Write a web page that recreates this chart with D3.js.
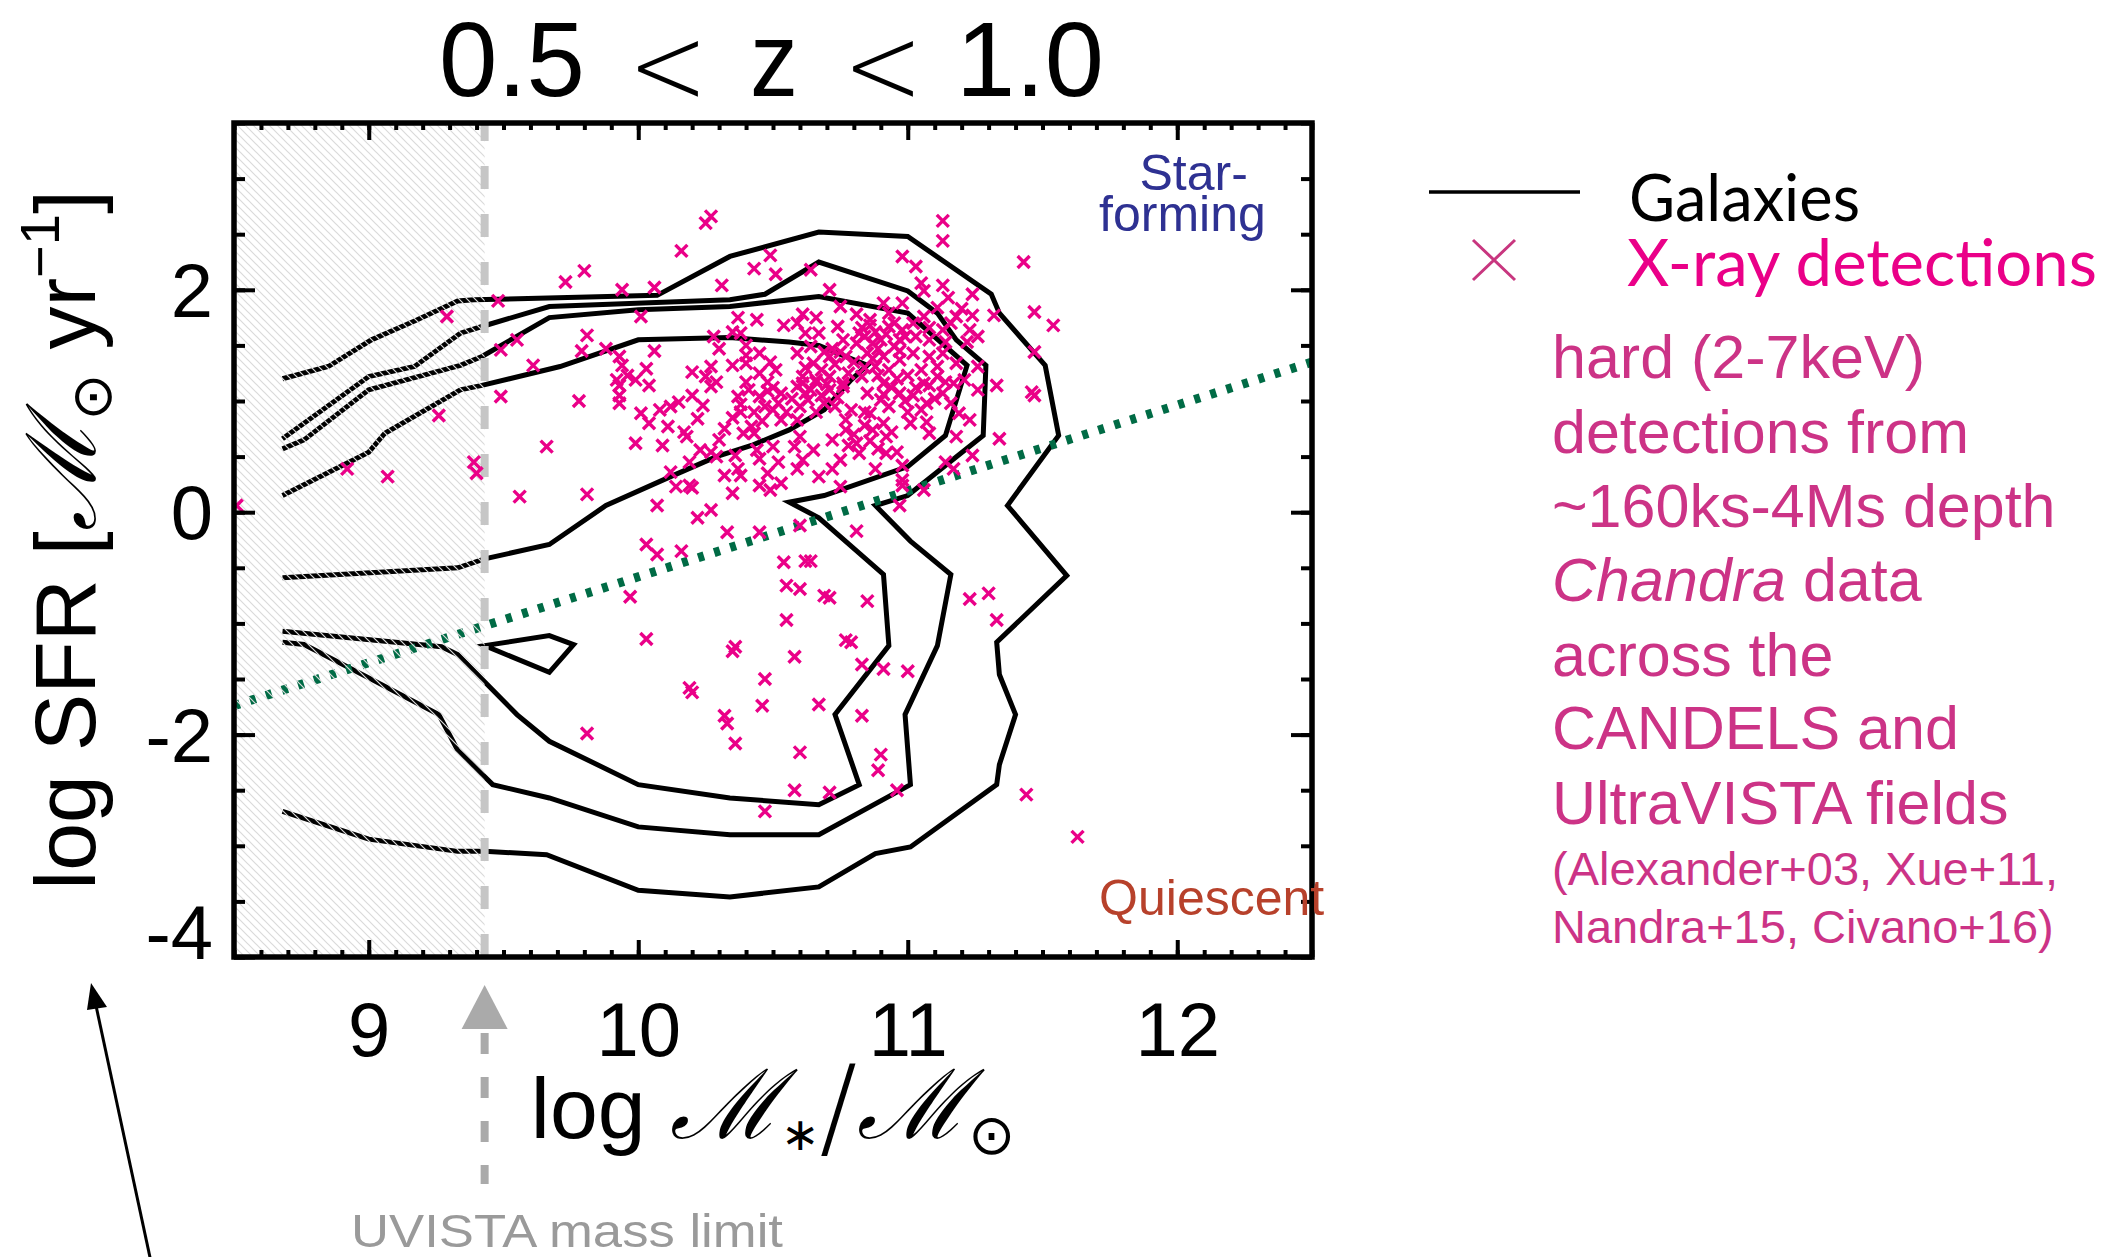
<!DOCTYPE html>
<html>
<head>
<meta charset="utf-8">
<script src="https://cdn.jsdelivr.net/npm/d3@7"></script>
<style>
  html, body { margin: 0; padding: 0; background: #fff; }
  svg { display: block; }
</style>
</head>
<body>
<script>
// ---------- data ----------
const xTickValues = [9, 10, 11, 12];
const yTickValues = [2, 0, -2, -4];
const massLimit = 9.43;                       // UVISTA stellar-mass completeness limit
const mainSequence = [[8.5, -1.74], [12.5, 1.35]];  // star-forming / quiescent divider

// galaxy density contours (log M*, log SFR)
const contourOuter = [[8.68,1.20],[8.85,1.31],[9.01,1.55],[9.17,1.72],[9.33,1.90],[9.39,1.91],[10.07,1.95],[10.34,2.30],[10.67,2.52],[11.00,2.48],[11.31,1.96],[11.34,1.79],[11.51,1.32],[11.56,0.69],[11.37,0.06],[11.59,-0.57],[11.33,-1.17],[11.34,-1.46],[11.40,-1.82],[11.34,-2.27],[11.33,-2.45],[11.01,-3.01],[10.88,-3.07],[10.67,-3.37],[10.34,-3.46],[10.00,-3.40],[9.66,-3.08],[9.43,-3.05],[9.33,-3.05],[9.00,-2.94],[8.68,-2.69]];
const contourSecond = [[8.68,0.66],[9.00,1.22],[9.17,1.31],[9.34,1.61],[9.42,1.67],[9.67,1.85],[10.34,1.91],[10.47,1.96],[10.67,2.25],[11.00,1.99],[11.11,1.79],[11.18,1.55],[11.29,1.32],[11.28,0.69],[11.00,0.15],[10.88,0.06],[11.01,-0.26],[11.16,-0.56],[11.11,-1.20],[10.99,-1.82],[11.01,-2.45],[10.67,-2.90],[10.34,-2.90],[10.00,-2.83],[9.67,-2.57],[9.46,-2.45],[9.33,-2.14],[9.26,-1.82],[9.00,-1.49],[8.76,-1.19],[8.68,-1.17]];
const contourThird = [[8.68,0.57],[8.76,0.65],[9.00,1.10],[9.34,1.32],[9.42,1.40],[9.67,1.75],[10.00,1.82],[10.34,1.85],[10.67,1.94],[11.00,1.79],[11.22,1.32],[11.14,0.69],[11.00,0.41],[10.69,0.15],[10.56,0.09],[10.67,-0.05],[10.91,-0.56],[10.93,-1.20],[10.73,-1.82],[10.82,-2.45],[10.67,-2.63],[10.34,-2.57],[10.00,-2.45],[9.67,-2.06],[9.55,-1.82],[9.33,-1.28],[9.27,-1.21],[8.68,-1.07]];
const contourCore = [[8.68,0.15],[9.00,0.54],[9.06,0.71],[9.34,1.10],[9.42,1.14],[9.71,1.31],[10.00,1.55],[10.34,1.57],[10.56,1.53],[10.67,1.50],[10.85,1.32],[10.79,1.19],[10.69,0.92],[10.56,0.74],[10.42,0.60],[10.29,0.50],[10.12,0.32],[9.88,0.06],[9.67,-0.29],[9.43,-0.42],[9.33,-0.50],[8.68,-0.59]];
const contourIsland = [[9.43,-1.20],[9.67,-1.11],[9.76,-1.19],[9.67,-1.44]];

// hard-band X-ray detected hosts (log M*, log SFR)
const xrayDetections = [
[10.27,2.66],[10.25,2.60],[10.16,2.35],[9.80,2.17],[9.73,2.07],[9.94,2.00],[10.06,2.02],[10.31,2.04],[10.49,2.31],[10.43,2.19],[10.51,2.14],[10.01,1.76],[9.81,1.59],[9.79,1.45],[9.88,1.47],[10.06,1.45],[10.28,1.58],[10.30,1.47],[9.93,1.40],[9.94,1.32],[10.03,1.29],[9.96,1.23],[9.99,1.19],[9.93,1.14],[10.04,1.14],[10.20,1.26],[10.27,1.31],[10.35,1.32],[10.25,1.22],[10.29,1.17],[10.40,1.17],[10.37,1.75],[10.44,1.73],[10.35,1.62],[10.38,1.61],[10.40,1.50],[10.45,1.43],[10.40,1.41],[10.40,1.34],[10.49,1.35],[10.45,1.25],[10.48,1.17],[10.51,1.28],[10.54,1.68],
[11.13,2.62],[11.13,2.44],[10.98,2.30],[11.03,2.21],[11.43,2.25],[10.64,2.18],[11.05,2.06],[11.13,2.04],[10.71,2.00],[11.24,1.96],[11.06,1.99],[11.32,1.77],[11.24,1.77],[11.11,1.84],[11.18,1.76],[10.98,1.88],[10.91,1.88],[10.75,1.85],[10.61,1.78],[10.66,1.75],[10.81,1.78],[10.86,1.73],[10.93,1.79],[11.06,1.76],[10.59,1.70],[10.74,1.67],[10.67,1.61],[10.62,1.61],[10.82,1.61],[10.93,1.67],[10.98,1.64],[11.13,1.64],[11.23,1.64],[11.26,1.58],[11.22,1.53],[11.14,1.53],[11.08,1.55],[11.03,1.58],[10.97,1.55],[10.95,1.49],[10.87,1.52],[10.81,1.52],[10.76,1.55],[10.72,1.47],[10.64,1.49],[10.59,1.43],[10.65,1.34],[10.71,1.40],[10.77,1.40],[10.85,1.43],[10.91,1.40],[10.97,1.37],[11.02,1.43],[11.08,1.40],[11.13,1.43],[11.18,1.34],[11.11,1.31],[11.05,1.28],[11.00,1.23],[10.93,1.28],[10.88,1.31],[10.83,1.22],[10.71,1.22],[10.61,1.22],[11.26,1.31],[11.21,1.19],[11.33,1.14],[11.14,1.17],[11.06,1.16],[10.91,1.16],[10.76,1.16],[10.66,1.17],
[9.78,1.00],[9.93,1.05],[9.93,0.98],[10.01,0.89],[10.04,0.80],[10.08,0.92],[10.11,0.77],[10.12,0.95],[10.15,0.99],[10.20,1.05],[10.24,0.96],[10.22,0.84],[10.17,0.72],[10.18,0.68],[9.99,0.62],[10.09,0.60],[10.23,0.56],[10.27,1.13],[10.37,1.04],[10.38,0.90],[10.45,1.04],[10.43,0.90],[10.53,1.07],[10.50,0.92],[10.53,0.83],[10.32,0.75],[10.30,0.65],[10.39,0.71],[10.43,0.71],[10.27,0.54],[10.29,0.50],[10.36,0.51],[10.44,0.56],[10.45,0.48],[10.50,0.59],[10.52,0.45],[10.19,0.45],[10.12,0.36],[10.32,0.33],[10.37,0.39],[10.38,0.33],[10.48,0.35],[10.45,0.24],[10.49,0.20],[10.53,0.26],[10.14,0.23],[10.19,0.24],[10.20,0.22],[10.35,0.17],[9.81,0.16],[10.07,0.06],[10.22,-0.05],[10.27,0.02],[10.33,-0.18],[10.45,-0.18],[10.03,-0.29],[10.07,-0.38],[10.16,-0.35],[10.54,-0.45],
[10.59,1.13],[10.64,1.10],[10.71,1.10],[10.76,1.13],[10.69,0.98],[10.63,1.01],[10.59,0.83],[10.60,0.68],[10.58,0.59],[10.65,0.56],[10.72,0.65],[10.77,0.74],[10.79,0.92],[10.85,1.07],[10.90,1.01],[10.86,0.89],[10.93,0.95],[10.97,1.07],[11.02,1.05],[11.08,1.14],[11.07,0.98],[11.13,1.07],[11.17,1.16],[11.16,0.98],[11.01,0.80],[11.07,0.81],[11.08,0.71],[11.19,0.89],[11.23,0.83],[11.26,1.10],[11.18,0.68],[10.91,0.80],[10.87,0.74],[10.92,0.68],[10.81,0.62],[10.82,0.53],[10.92,0.53],[10.96,0.54],[10.75,0.47],[10.72,0.39],[10.67,0.32],[10.61,0.47],[10.59,0.39],[10.88,0.39],[10.98,0.42],[10.98,0.29],[10.98,0.24],[11.06,0.20],[10.75,0.23],[11.14,0.45],[11.17,0.39],[11.24,0.51],[11.34,0.66],[10.97,0.06],[10.60,-0.12],[10.81,-0.17],[10.62,-0.44],[10.64,-0.44],
[10.84,1.58],[10.88,1.62],[10.90,1.55],[10.86,1.68],[10.95,1.70],[10.99,1.58],[10.89,1.47],[10.83,1.66],[10.92,1.60],[10.97,1.45],
[10.60,0.95],[10.62,1.07],[10.66,0.90],[10.68,1.05],[10.70,1.15],[10.73,0.95],[10.74,1.03],[10.61,1.16],[10.66,1.19],[10.57,1.02],
[10.38,0.97],[10.41,1.10],[10.46,0.82],[10.47,0.95],[10.50,1.12],[10.52,0.98],[10.55,0.90],[10.42,0.77],[10.35,0.85],[10.48,1.09],
[10.68,1.28],[10.73,1.33],[10.78,1.25],[10.80,1.35],[10.84,1.30],[10.87,1.38],[10.75,1.44],[10.69,1.44],[10.62,1.30],[10.89,1.23],
[10.94,1.12],[10.99,1.00],[11.03,1.12],[11.05,0.92],[11.10,1.02],[10.96,1.20],[11.11,1.22],[11.00,0.90],[10.91,1.06],
[10.78,0.60],[10.80,0.70],[10.84,0.78],[10.86,0.64],[10.89,0.57],[10.94,0.72],[10.77,0.83],[10.84,0.90],
[11.02,1.70],[11.08,1.66],[11.16,1.70],[11.20,1.83],[11.15,1.93],
[9.48,1.90],[9.29,1.76],[9.49,1.46],[9.55,1.55],[9.61,1.32],[9.92,1.19],[9.49,1.04],[9.26,0.87],[9.66,0.59],[8.92,0.39],[9.07,0.32],[9.39,0.45],[9.40,0.35],[9.56,0.14],[8.51,0.06],
[9.97,-0.76],[10.55,-0.66],[10.60,-0.69],[10.71,-0.77],[10.69,-0.75],[10.55,-0.97],[10.03,-1.14],[10.35,-1.25],[10.36,-1.21],[10.58,-1.30],[10.47,-1.50],[10.19,-1.58],[10.20,-1.62],[10.46,-1.74],[10.67,-1.73],[10.32,-1.83],[10.33,-1.90],[9.81,-1.99],[10.36,-2.08],[10.60,-2.16],[10.58,-2.50],[10.71,-2.52],[10.47,-2.69],[10.85,-0.80],[10.77,-1.15],[10.79,-1.17],[10.83,-1.37],[10.91,-1.41],[11.00,-1.43],[10.83,-1.83],[10.90,-2.18],[10.89,-2.32],[10.96,-2.50],[11.23,-0.78],[11.30,-0.73],[11.33,-0.97],[11.44,-2.54],[11.63,-2.92],
[11.47,1.80],[11.54,1.68],[11.47,1.44],[11.46,1.08],[11.47,1.05]
];

const descriptionLines = [
  ["hard (2-7keV)"],
  ["detections from"],
  ["~160ks-4Ms depth"],
  ["Chandra", " data"],
  ["across the"],
  ["CANDELS and"],
  ["UltraVISTA fields"]
];
const referenceLines = ["(Alexander+03, Xue+11,", "Nandra+15, Civano+16)"];

// ---------- layout ----------
const W = 2110, H = 1257;
const plot = { left: 234, right: 1312, top: 123, bottom: 957 };
const SANS = "'Liberation Sans', Arial, Helvetica, sans-serif";
const MAGENTA = "#ea0088";

const x = d3.scaleLinear().domain([8.5, 12.5]).range([plot.left, plot.right]);
const y = d3.scaleLinear().domain([-4, 3.5]).range([plot.bottom, plot.top]);

const svg = d3.select("body").append("svg")
  .attr("width", W).attr("height", H)
  .attr("viewBox", `0 0 ${W} ${H}`)
  .style("font-family", SANS);

svg.append("rect").attr("width", W).attr("height", H).attr("fill", "#fff");

const defs = svg.append("defs");
defs.append("clipPath").attr("id", "plot-clip").append("rect")
  .attr("x", plot.left).attr("y", plot.top)
  .attr("width", plot.right - plot.left).attr("height", plot.bottom - plot.top);

const hatch = defs.append("pattern").attr("id", "hatch")
  .attr("patternUnits", "userSpaceOnUse").attr("width", 8).attr("height", 8);
hatch.append("path")
  .attr("d", "M-1,-1L9,9M-9,-1L1,9M7,-1L17,9")
  .attr("stroke", "#dadada").attr("stroke-width", 1.2);

const body = svg.append("g").attr("clip-path", "url(#plot-clip)");

// density contours
const line = d3.line().x(d => x(d[0])).y(d => y(d[1]));
[contourOuter, contourSecond, contourThird, contourCore].forEach(c => {
  body.append("path").attr("d", line(c))
    .attr("fill", "none").attr("stroke", "#000").attr("stroke-width", 5)
    .attr("stroke-linejoin", "miter");
});
body.append("path").attr("d", line(contourIsland) + "Z")
  .attr("fill", "none").attr("stroke", "#000").attr("stroke-width", 5);

// main-sequence divider
body.append("path").attr("d", line(mainSequence))
  .attr("fill", "none").attr("stroke", "#006b45").attr("stroke-width", 9)
  .attr("stroke-dasharray", "6,10.8");

// region below the mass limit
body.append("rect")
  .attr("x", x(8.5)).attr("y", plot.top)
  .attr("width", x(massLimit) - x(8.5)).attr("height", plot.bottom - plot.top)
  .attr("fill", "url(#hatch)");

// mass-limit line
body.append("line")
  .attr("x1", x(massLimit)).attr("x2", x(massLimit))
  .attr("y1", plot.bottom).attr("y2", plot.top)
  .attr("stroke", "#c6c6c6").attr("stroke-width", 8)
  .attr("stroke-dasharray", "23,25");

// X-ray detections
const cross = "M-6,-6L6,6M-6,6L6,-6";
body.append("g").selectAll("path").data(xrayDetections).join("path")
  .attr("transform", d => `translate(${x(d[0])},${y(d[1])})`)
  .attr("d", cross)
  .attr("fill", "none").attr("stroke", MAGENTA).attr("stroke-width", 3.4);

// ---------- axes ----------
const xMinor = d3.range(85, 126).map(v => v / 10);
const yMinor = d3.range(-8, 8).map(v => v / 2);

function styleAxis(g) {
  g.select(".domain").remove();
  g.selectAll(".tick line").attr("stroke", "#000").attr("stroke-width", 4);
}
svg.append("g").attr("transform", `translate(0,${plot.bottom})`)
  .call(d3.axisBottom(x).tickValues(xMinor).tickSize(-7).tickFormat("")).call(styleAxis);
svg.append("g").attr("transform", `translate(0,${plot.top})`)
  .call(d3.axisTop(x).tickValues(xMinor).tickSize(-7).tickFormat("")).call(styleAxis);
svg.append("g").attr("transform", `translate(0,${plot.top})`)
  .call(d3.axisTop(x).tickValues(xTickValues).tickSize(-17).tickFormat("")).call(styleAxis);
svg.append("g").attr("transform", `translate(${plot.left},0)`)
  .call(d3.axisLeft(y).tickValues(yMinor).tickSize(-11).tickFormat("")).call(styleAxis);
svg.append("g").attr("transform", `translate(${plot.right},0)`)
  .call(d3.axisRight(y).tickValues(yMinor).tickSize(-11).tickFormat("")).call(styleAxis);
svg.append("g").attr("transform", `translate(${plot.right},0)`)
  .call(d3.axisRight(y).tickValues(yTickValues).tickSize(-21).tickFormat("")).call(styleAxis);

const xAxis = svg.append("g").attr("transform", `translate(0,${plot.bottom})`)
  .call(d3.axisBottom(x).tickValues(xTickValues).tickSize(-17).tickPadding(45).tickFormat(d => String(d)))
  .call(styleAxis);
xAxis.selectAll("text").attr("font-size", 76).attr("font-family", SANS).attr("fill", "#000");

const yAxis = svg.append("g").attr("transform", `translate(${plot.left},0)`)
  .call(d3.axisLeft(y).tickValues(yTickValues).tickSize(-21).tickPadding(21).tickFormat(d => String(d)))
  .call(styleAxis);
yAxis.selectAll("text").attr("font-size", 76).attr("font-family", SANS).attr("fill", "#000")
  .attr("dy", d => d === -4 ? "0.02em" : "0.35em");

// frame
svg.append("rect")
  .attr("x", plot.left).attr("y", plot.top)
  .attr("width", plot.right - plot.left).attr("height", plot.bottom - plot.top)
  .attr("fill", "none").attr("stroke", "#000").attr("stroke-width", 5.5);

// ---------- region labels ----------
svg.append("text").attr("x", x(11.86)).attr("y", y(2.90))
  .attr("font-size", 50).attr("fill", "#2e3192").text("Star-");
svg.append("text").attr("x", x(11.71)).attr("y", y(2.53))
  .attr("font-size", 50).attr("fill", "#2e3192").text("forming");
svg.append("text").attr("x", x(11.71)).attr("y", y(-3.62))
  .attr("font-size", 50).attr("fill", "#b7412b").text("Quiescent");

// ---------- title ----------
const title = svg.append("g").attr("font-size", 105).attr("fill", "#000");
title.append("text").attr("x", 439).attr("y", 96).attr("textLength", 146).attr("lengthAdjust", "spacingAndGlyphs").text("0.5");
title.append("text").attr("x", 750).attr("y", 96).attr("textLength", 48).attr("lengthAdjust", "spacingAndGlyphs").text("z");
title.append("text").attr("x", 956).attr("y", 96).attr("textLength", 148).attr("lengthAdjust", "spacingAndGlyphs").text("1.0");
[632, 847].forEach(px => {
  title.append("text").attr("x", px - 4).attr("y", 104)
    .attr("font-family", "'DejaVu Sans', sans-serif").attr("font-weight", 200)
    .attr("font-size", 112).attr("textLength", 80).attr("lengthAdjust", "spacingAndGlyphs").text("<");
});

// ---------- axis titles ----------
const xt = svg.append("text").attr("x", (plot.left + plot.right) / 2).attr("y", 1138)
  .attr("text-anchor", "middle").attr("font-size", 86).attr("fill", "#000");
xt.append("tspan").text("log ");
xt.append("tspan").attr("font-family", "'DejaVu Serif', serif").attr("font-style", "italic").attr("font-size", 96).text("ℳ");
xt.append("tspan").attr("font-size", 46).attr("dy", 12).text("∗");
xt.append("tspan").attr("font-family", "'DejaVu Sans', sans-serif").attr("font-weight", 200).attr("font-size", 112).attr("dy", -4).text("/");
xt.append("tspan").attr("font-family", "'DejaVu Serif', serif").attr("font-style", "italic").attr("font-size", 96).attr("dy", -8).text("ℳ");
xt.append("tspan").attr("font-family", "'DejaVu Sans', sans-serif").attr("font-size", 56).attr("dy", 16).text("⊙");

const yt = svg.append("text").attr("transform", `translate(95,540) rotate(-90)`)
  .attr("text-anchor", "middle").attr("font-size", 86).attr("fill", "#000");
yt.append("tspan").text("log SFR [");
yt.append("tspan").attr("font-family", "'DejaVu Serif', serif").attr("font-style", "italic").attr("font-size", 96).text("ℳ");
yt.append("tspan").attr("font-family", "'DejaVu Sans', sans-serif").attr("font-size", 56).attr("dy", 16).text("⊙");
yt.append("tspan").attr("dy", -16).text(" yr");
yt.append("tspan").attr("font-size", 56).attr("dy", -36).text("−1");
yt.append("tspan").attr("dy", 36).text("]");

// ---------- mass-limit annotation ----------
const mx = x(massLimit);
svg.append("path")
  .attr("d", `M${mx},985L${mx + 23},1029L${mx - 23},1029Z`)
  .attr("fill", "#aaaaaa");
svg.append("line").attr("x1", mx).attr("x2", mx).attr("y1", 1033).attr("y2", 1184)
  .attr("stroke", "#aaaaaa").attr("stroke-width", 8).attr("stroke-dasharray", "21,23");
svg.append("text").attr("x", 351).attr("y", 1247).attr("font-size", 47)
  .attr("fill", "#9a9a9a").attr("textLength", 432).attr("lengthAdjust", "spacingAndGlyphs")
  .text("UVISTA mass limit");

// arrow pointing at the axis label
const tail = [151, 1262], tip = [91, 983];
svg.append("line").attr("x1", tail[0]).attr("y1", tail[1]).attr("x2", tip[0] + 4).attr("y2", tip[1] + 18)
  .attr("stroke", "#000").attr("stroke-width", 3);
svg.append("path").attr("d", `M${tip[0]},${tip[1]}L${tip[0] + 16},${tip[1] + 24}L${tip[0] - 4},${tip[1] + 27}Z`)
  .attr("fill", "#000");

// ---------- legend ----------
const legend = svg.append("g");
legend.append("line").attr("x1", 1429).attr("x2", 1580).attr("y1", 192).attr("y2", 192)
  .attr("stroke", "#000").attr("stroke-width", 3.5);
legend.append("text").attr("x", 1629).attr("y", 221).attr("font-family", "Lato, 'DejaVu Sans', sans-serif")
  .attr("font-size", 66).attr("fill", "#000").attr("textLength", 231).attr("lengthAdjust", "spacingAndGlyphs").text("Galaxies");
legend.append("path").attr("transform", "translate(1494,260)").attr("d", "M-21,-20L21,20M-21,20L21,-20")
  .attr("stroke", "#c8367f").attr("stroke-width", 3).attr("fill", "none");
legend.append("text").attr("x", 1627).attr("y", 286).attr("font-family", "Lato, 'DejaVu Sans', sans-serif")
  .attr("font-size", 66).attr("fill", MAGENTA).attr("textLength", 470).attr("lengthAdjust", "spacingAndGlyphs").text("X-ray detections");

const DESC = "#cc3386";
const descBase = [378, 453, 527, 601, 676, 749, 824];
descriptionLines.forEach((parts, i) => {
  const t = legend.append("text").attr("x", 1552).attr("y", descBase[i]).attr("font-size", 61).attr("fill", DESC);
  parts.forEach((p, j) => {
    const s = t.append("tspan").text(p);
    if (parts.length > 1 && j === 0) s.attr("font-style", "italic");
  });
});
[885, 943].forEach((yy, i) => {
  legend.append("text").attr("x", 1552).attr("y", yy).attr("font-size", 47).attr("fill", DESC).text(referenceLines[i]);
});
</script>
</body>
</html>
